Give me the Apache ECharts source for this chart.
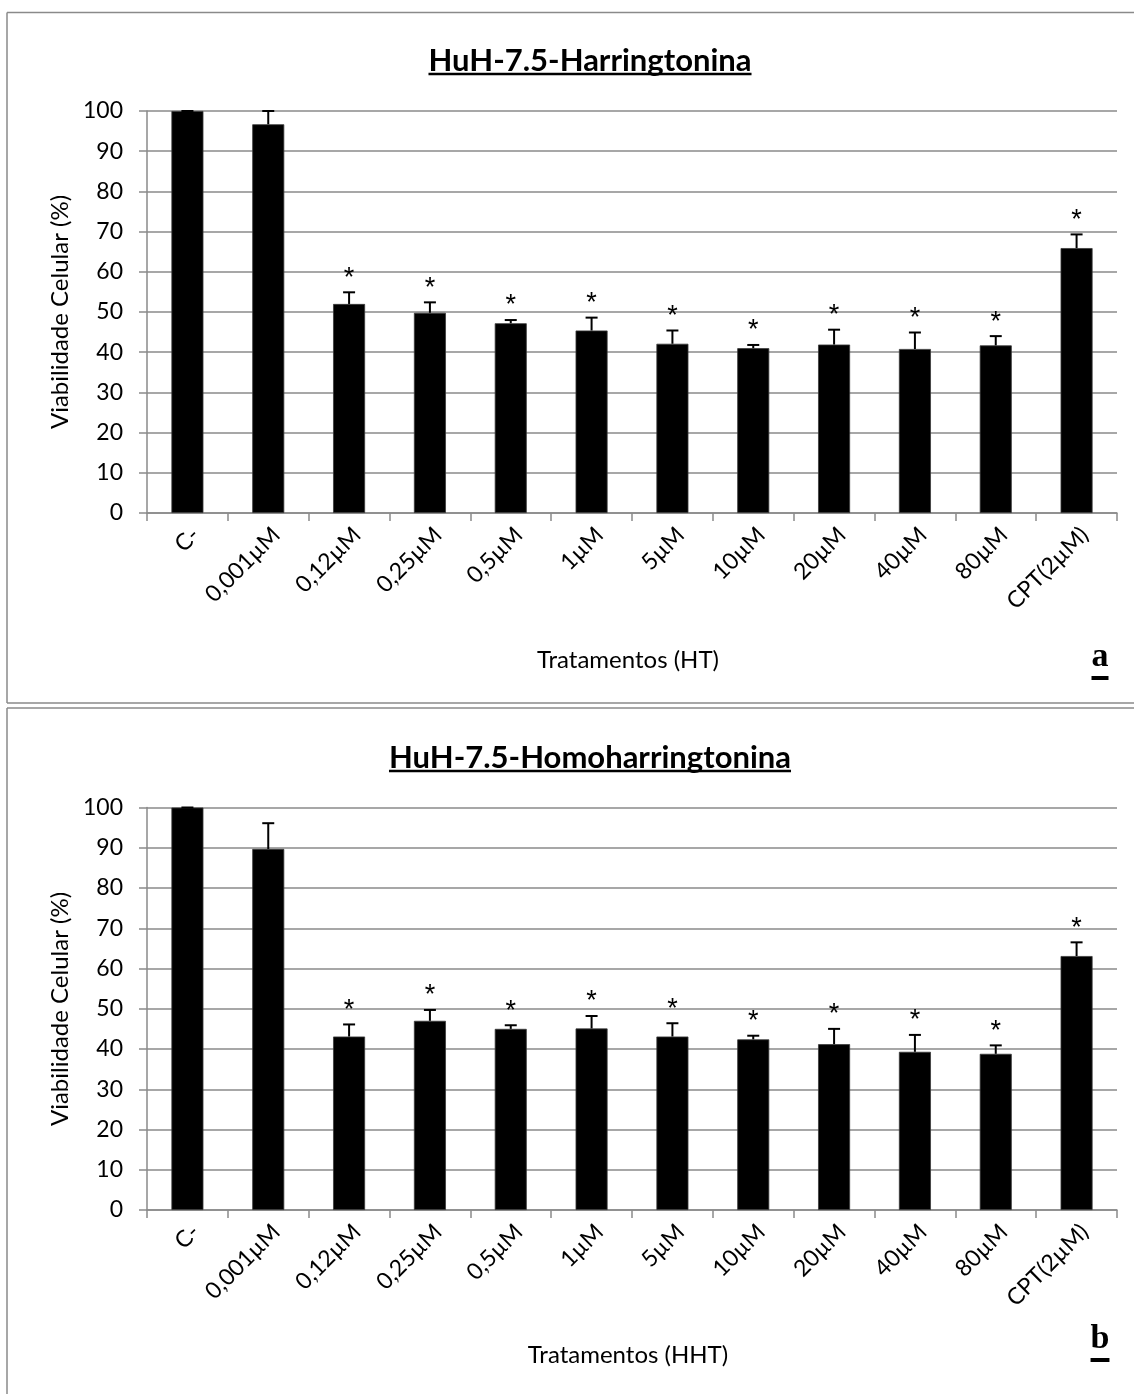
<!DOCTYPE html>
<html>
<head>
<meta charset="utf-8">
<script src="https://cdn.jsdelivr.net/npm/echarts@6/dist/echarts.min.js"></script>
<style>
  html, body { margin: 0; padding: 0; background: #fff; }
  #chart { width: 1134px; height: 1394px; }
</style>
</head>
<body>
<div id="chart"></div>
<script>
// Treatments (shared by both panels)
const categories = ['C-', '0,001µM', '0,12µM', '0,25µM', '0,5µM', '1µM', '5µM', '10µM', '20µM', '40µM', '80µM', 'CPT(2µM)'];

// Panel a: HuH-7.5 + Harringtonina — mean viability (%) and error
const htMean = [100, 96.7, 52.0, 49.8, 47.2, 45.4, 42.1, 41.0, 41.9, 40.8, 41.7, 65.9];
const htErr  = [0, 3.3, 2.9, 2.6, 0.8, 3.2, 3.3, 0.8, 3.7, 4.1, 2.3, 3.4];

// Panel b: HuH-7.5 + Homoharringtonina — mean viability (%) and error
const hhtMean = [100, 89.7, 43.1, 47.0, 45.0, 45.1, 43.1, 42.4, 41.2, 39.3, 38.8, 63.1];
const hhtErr  = [0, 6.4, 3.0, 2.7, 0.9, 3.1, 3.3, 0.9, 3.8, 4.2, 2.1, 3.4];

// Significance marks (*)
const htSig  = [false, false, true, true, true, true, true, true, true, true, true, true];
const hhtSig = [false, false, true, true, true, true, true, true, true, true, true, true];

const yTicks = [0, 10, 20, 30, 40, 50, 60, 70, 80, 90, 100];

const FONT = 'Lato, "Open Sans", "Liberation Sans", sans-serif';
const GRID_COLOR = '#8a8a8a';

const chart = echarts.init(document.getElementById('chart'), null, { renderer: 'canvas' });

function measure(text, font) {
  const c = document.createElement('canvas').getContext('2d');
  c.font = font;
  return c.measureText(text).width;
}

function errorRender(params, api) {
  const x = api.value(0), v = api.value(1), e = api.value(2);
  const base = api.coord([x, v]);
  const top = api.coord([x, v + e]);
  const half = 6;
  const st = { stroke: '#000', lineWidth: 2 };
  return {
    type: 'group',
    children: [
      { type: 'line', shape: { x1: base[0], y1: base[1], x2: top[0], y2: top[1] }, style: st },
      { type: 'line', shape: { x1: top[0] - half, y1: top[1], x2: top[0] + half, y2: top[1] }, style: st }
    ]
  };
}

function starRender(params, api) {
  const x = api.value(0), v = api.value(1), e = api.value(2), s = api.value(3);
  if (!s) return null;
  const top = api.coord([x, v + e]);
  return {
    type: 'text',
    style: {
      text: '*', x: top[0], y: top[1] - 14,
      font: '27px "Liberation Sans", Arial, sans-serif', fill: '#000',
      align: 'center', verticalAlign: 'middle'
    }
  };
}

function panelSeries(idx, mean, err, sig) {
  const rows = mean.map((m, i) => [i, m, err[i], sig[i] ? 1 : 0]);
  return [
    {
      type: 'bar', xAxisIndex: idx, yAxisIndex: idx,
      data: mean, barWidth: 32,
      itemStyle: { color: '#000', borderColor: '#3a3a3a', borderWidth: 0.8 },
      z: 2, animation: false
    },
    {
      type: 'custom', xAxisIndex: idx, yAxisIndex: idx,
      data: rows, renderItem: errorRender, z: 3, animation: false, clip: false
    },
    {
      type: 'custom', xAxisIndex: idx, yAxisIndex: idx,
      data: rows, renderItem: starRender, z: 3, animation: false, clip: false
    }
  ];
}

function xAxisCfg(idx) {
  return {
    type: 'category', gridIndex: idx, data: categories,
    boundaryGap: true,
    axisLine: { lineStyle: { color: GRID_COLOR, width: 1.5 } },
    axisTick: { show: true, length: 8, lineStyle: { color: GRID_COLOR, width: 1.5 } },
    axisLabel: {
      interval: 0, rotate: 45, margin: 10,
      align: 'right', verticalAlign: 'top',
      color: '#000', fontFamily: FONT, fontSize: 23
    }
  };
}

function yAxisCfg(idx) {
  return {
    type: 'value', gridIndex: idx, min: 0, max: 100, interval: 10,
    axisLine: { show: true, lineStyle: { color: GRID_COLOR, width: 1.5 } },
    axisTick: { show: true, length: 8, lineStyle: { color: GRID_COLOR, width: 1.5 } },
    splitLine: { show: true, lineStyle: { color: GRID_COLOR, width: 1.5 } },
    axisLabel: {
      margin: 24, color: '#000', fontFamily: FONT, fontSize: 23,
      formatter: v => (yTicks.indexOf(v) >= 0 ? String(v) : '')
    }
  };
}

// Decorations: frames, titles, axis names and panel letters
const titleFont = 'bold 31px ' + FONT;
const letterFont = 'bold 34px "Liberation Serif", "DejaVu Serif", serif';

function underlinedText(text, cx, bottom, font, lineW, gap) {
  const w = measure(text, font);
  return [
    { type: 'text', style: { text, x: cx, y: bottom, font, fill: '#000', align: 'center', verticalAlign: 'bottom' } },
    { type: 'line', shape: { x1: cx - w / 2, y1: bottom + gap, x2: cx + w / 2, y2: bottom + gap }, style: { stroke: '#000', lineWidth: lineW } }
  ];
}

function panelDecor(topY, bottomY, hasBottom, title, titleBottom, xName, xNameY, letter, letterBottom) {
  const frame = { stroke: GRID_COLOR, lineWidth: 1.5 };
  const els = [
    { type: 'line', shape: { x1: 7, y1: topY, x2: 1134, y2: topY }, style: frame },
    { type: 'line', shape: { x1: 7, y1: topY, x2: 7, y2: bottomY }, style: frame }
  ];
  if (hasBottom) els.push({ type: 'line', shape: { x1: 7, y1: bottomY, x2: 1134, y2: bottomY }, style: frame });
  els.push(...underlinedText(title, 590, titleBottom, titleFont, 2.5, -2));
  els.push({ type: 'text', style: { text: xName, x: 628, y: xNameY, font: '24px ' + FONT, fill: '#000', align: 'center', verticalAlign: 'middle' } });
  els.push(...underlinedText(letter, 1100, letterBottom, letterFont, 4, 4));
  return els;
}

const yNameStyle = { text: 'Viabilidade Celular (%)', font: '24px ' + FONT, fill: '#000', align: 'center', verticalAlign: 'middle' };
const yNameTop = { type: 'text', rotation: Math.PI / 2, x: 60, y: 312, style: yNameStyle };
const yNameBot = { type: 'text', rotation: Math.PI / 2, x: 60, y: 1009, style: Object.assign({}, yNameStyle) };

const graphics = []
  .concat(panelDecor(12.5, 703, true, 'HuH-7.5-Harringtonina', 76, 'Tratamentos (HT)', 660, 'a', 674))
  .concat(panelDecor(708, 1394, false, 'HuH-7.5-Homoharringtonina', 773, 'Tratamentos (HHT)', 1355, 'b', 1356))
  .concat([yNameTop, yNameBot]);

chart.setOption({
  backgroundColor: '#fff',
  animation: false,
  grid: [
    { left: 147, top: 111, width: 970, height: 402 },
    { left: 147, top: 807.5, width: 970, height: 402.5 }
  ],
  xAxis: [xAxisCfg(0), xAxisCfg(1)],
  yAxis: [yAxisCfg(0), yAxisCfg(1)],
  series: [].concat(
    panelSeries(0, htMean, htErr, htSig),
    panelSeries(1, hhtMean, hhtErr, hhtSig)
  ),
  graphic: { elements: graphics }
});
</script>
</body>
</html>
